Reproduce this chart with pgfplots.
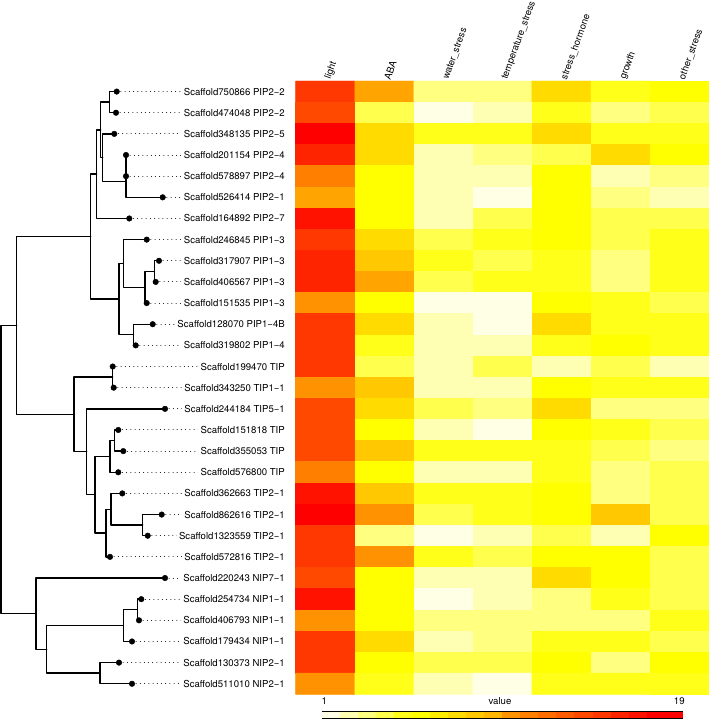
\documentclass[border=0pt]{standalone}
\usepackage{fontspec}
\setmainfont{TeX Gyre Heros}
\usepackage{pgfplots}
\pgfplotsset{compat=1.18}
\tikzset{tree/.style={black, line width=1.4pt, line cap=round, line join=round},
  tip/.style={anchor=east, fill=white, inner xsep=2.5pt, inner ysep=1pt, font=\fontsize{9.6}{11}\selectfont},
  col/.style={anchor=west, rotate=70, inner sep=0pt, font=\fontsize{9.6}{11}\selectfont}}
\begin{document}
\begin{tikzpicture}
\begin{axis}[name=ax, width=709pt, height=719pt, scale only axis,
  xmin=0, xmax=709, ymin=-3.3296, ymax=30.666, y dir=reverse, hide axis, clip=true,
  colormap={heat}{rgb255=(255,255,230) rgb255=(255,255,179) rgb255=(255,255,128) rgb255=(255,255,77) rgb255=(255,255,26) rgb255=(255,255,0) rgb255=(255,237,0) rgb255=(255,219,0) rgb255=(255,200,0) rgb255=(255,182,0) rgb255=(255,164,0) rgb255=(255,146,0) rgb255=(255,128,0) rgb255=(255,109,0) rgb255=(255,91,0) rgb255=(255,73,0) rgb255=(255,55,0) rgb255=(255,36,0) rgb255=(255,18,0) rgb255=(255,0,0) rgb255=(255,0,0)},
  colormap access=piecewise constant, point meta min=1.001, point meta max=19]

% heatmap: columns light, ABA, water_stress, temperature_stress, stress_hormone, growth, other_stress
\addplot[matrix plot*, mesh/cols=7, point meta=explicit] coordinates {
(325.2,1)[15] (384.3,1)[10] (443.3,1)[3] (502.4,1)[3] (561.4,1)[7] (620.5,1)[5] (679.5,1)[6]
(325.2,2)[14] (384.3,2)[4] (443.3,2)[1] (502.4,2)[2] (561.4,2)[5] (620.5,2)[3] (679.5,2)[4]
(325.2,3)[19] (384.3,3)[7] (443.3,3)[5] (502.4,3)[5] (561.4,3)[7] (620.5,3)[5] (679.5,3)[5]
(325.2,4)[16] (384.3,4)[7] (443.3,4)[2] (502.4,4)[3] (561.4,4)[4] (620.5,4)[7] (679.5,4)[6]
(325.2,5)[12] (384.3,5)[6] (443.3,5)[2] (502.4,5)[2] (561.4,5)[6] (620.5,5)[2] (679.5,5)[3]
(325.2,6)[10] (384.3,6)[6] (443.3,6)[2] (502.4,6)[1] (561.4,6)[6] (620.5,6)[3] (679.5,6)[2]
(325.2,7)[17] (384.3,7)[6] (443.3,7)[2] (502.4,7)[4] (561.4,7)[6] (620.5,7)[4] (679.5,7)[4]
(325.2,8)[15] (384.3,8)[7] (443.3,8)[4] (502.4,8)[5] (561.4,8)[6] (620.5,8)[4] (679.5,8)[5]
(325.2,9)[16] (384.3,9)[8] (443.3,9)[5] (502.4,9)[4] (561.4,9)[5] (620.5,9)[3] (679.5,9)[5]
(325.2,10)[16] (384.3,10)[10] (443.3,10)[4] (502.4,10)[5] (561.4,10)[5] (620.5,10)[3] (679.5,10)[5]
(325.2,11)[11] (384.3,11)[6] (443.3,11)[1] (502.4,11)[1] (561.4,11)[6] (620.5,11)[5] (679.5,11)[4]
(325.2,12)[15] (384.3,12)[7] (443.3,12)[2] (502.4,12)[1] (561.4,12)[7] (620.5,12)[5] (679.5,12)[5]
(325.2,13)[15] (384.3,13)[5] (443.3,13)[2] (502.4,13)[2] (561.4,13)[5] (620.5,13)[6] (679.5,13)[5]
(325.2,14)[15] (384.3,14)[4] (443.3,14)[2] (502.4,14)[4] (561.4,14)[2] (620.5,14)[4] (679.5,14)[2]
(325.2,15)[11] (384.3,15)[8] (443.3,15)[2] (502.4,15)[2] (561.4,15)[6] (620.5,15)[5] (679.5,15)[5]
(325.2,16)[14] (384.3,16)[7] (443.3,16)[4] (502.4,16)[3] (561.4,16)[7] (620.5,16)[3] (679.5,16)[3]
(325.2,17)[14] (384.3,17)[6] (443.3,17)[2] (502.4,17)[1] (561.4,17)[6] (620.5,17)[5] (679.5,17)[4]
(325.2,18)[14] (384.3,18)[8] (443.3,18)[5] (502.4,18)[5] (561.4,18)[5] (620.5,18)[4] (679.5,18)[3]
(325.2,19)[12] (384.3,19)[6] (443.3,19)[2] (502.4,19)[2] (561.4,19)[5] (620.5,19)[3] (679.5,19)[4]
(325.2,20)[17] (384.3,20)[8] (443.3,20)[5] (502.4,20)[5] (561.4,20)[6] (620.5,20)[3] (679.5,20)[4]
(325.2,21)[19] (384.3,21)[11] (443.3,21)[4] (502.4,21)[5] (561.4,21)[6] (620.5,21)[8] (679.5,21)[4]
(325.2,22)[15] (384.3,22)[3] (443.3,22)[1] (502.4,22)[2] (561.4,22)[4] (620.5,22)[2] (679.5,22)[6]
(325.2,23)[15] (384.3,23)[11] (443.3,23)[5] (502.4,23)[4] (561.4,23)[6] (620.5,23)[6] (679.5,23)[4]
(325.2,24)[14] (384.3,24)[6] (443.3,24)[2] (502.4,24)[2] (561.4,24)[7] (620.5,24)[6] (679.5,24)[4]
(325.2,25)[17] (384.3,25)[6] (443.3,25)[1] (502.4,25)[2] (561.4,25)[3] (620.5,25)[5] (679.5,25)[4]
(325.2,26)[11] (384.3,26)[6] (443.3,26)[3] (502.4,26)[3] (561.4,26)[3] (620.5,26)[3] (679.5,26)[5]
(325.2,27)[15] (384.3,27)[7] (443.3,27)[2] (502.4,27)[3] (561.4,27)[5] (620.5,27)[5] (679.5,27)[4]
(325.2,28)[15] (384.3,28)[6] (443.3,28)[4] (502.4,28)[4] (561.4,28)[6] (620.5,28)[3] (679.5,28)[6]
(325.2,29)[11] (384.3,29)[5] (443.3,29)[2] (502.4,29)[1] (561.4,29)[5] (620.5,29)[5] (679.5,29)[5]
};

% colour key
\addplot[scatter, only marks, mark=-, mark size=9.02pt, mark options={line width=6.6pt},
  scatter/use mapped color={draw=mapped color}, point meta=explicit] coordinates {
(331.0,30.476)[1.45] (349.1,30.476)[2.35] (367.1,30.476)[3.25] (385.1,30.476)[4.15] (403.2,30.476)[5.05]
(421.2,30.476)[5.95] (439.2,30.476)[6.85] (457.3,30.476)[7.75] (475.3,30.476)[8.65] (493.4,30.476)[9.55]
(511.4,30.476)[10.45] (529.4,30.476)[11.35] (547.5,30.476)[12.25] (565.5,30.476)[13.15] (583.5,30.476)[14.05]
(601.6,30.476)[14.95] (619.6,30.476)[15.85] (637.6,30.476)[16.75] (655.7,30.476)[17.65] (673.7,30.476)[18.55]
};
\addplot[black, line width=0.8pt] coordinates {(322,30.32) (682.7,30.32) (682.7,30.632) (322,30.632) (322,30.32)};

% tree
\addplot[tree] coordinates {(116.7,1) (109.3,1) (109.3,2) (116.0,2)};
\addplot[tree] coordinates {(126,4) (126,5)};
\addplot[tree] coordinates {(126,4.5) (126,6) (162.7,6)};
\addplot[tree] coordinates {(114.3,3) (102.7,3) (102.7,5.25) (126,5.25)};
\addplot[tree] coordinates {(109.3,1.5) (100.7,1.5) (100.7,4.125) (102.7,4.125)};
\addplot[tree] coordinates {(100.7,2.8125) (96.7,2.8125) (96.7,7) (129.3,7)};
\addplot[tree] coordinates {(159,9) (154.3,9) (154.3,10) (155.7,10)};
\addplot[tree] coordinates {(154.3,9.5) (145,9.5) (145,11) (146.7,11)};
\addplot[tree] coordinates {(146.7,8) (123.3,8) (123.3,10.25) (145,10.25)};
\addplot[tree] coordinates {(152.7,12) (133.3,12) (133.3,13) (135.7,13)};
\addplot[tree] coordinates {(123.3,9.125) (119,9.125) (119,12.5) (133.3,12.5)};
\addplot[tree] coordinates {(96.7,4.90625) (90.7,4.90625) (90.7,10.8125) (119,10.8125)};
\addplot[tree] coordinates {(112.7,14) (112.7,15) (113.7,15)};
\addplot[tree] coordinates {(118.3,17) (114.3,17) (114.3,18) (123.3,18)};
\addplot[tree] coordinates {(114.3,17.5) (110,17.5) (110,19) (118.3,19)};
\addplot[tree] coordinates {(161.7,21) (142.7,21) (142.7,22) (147.7,22)};
\addplot[tree] coordinates {(122.3,20) (111,20) (111,21.5) (142.7,21.5)};
\addplot[tree] coordinates {(111,20.75) (106,20.75) (106,23) (110,23)};
\addplot[tree] coordinates {(110,18.25) (95,18.25) (95,21.875) (106,21.875)};
\addplot[tree] coordinates {(165,16) (86.7,16) (86.7,20.0625) (95,20.0625)};
\addplot[tree] coordinates {(112.7,14.5) (74,14.5) (74,18.03125) (86.7,18.03125)};
\addplot[tree] coordinates {(90.7,7.859375) (16.7,7.859375) (16.7,16.265625) (74,16.265625)};
\addplot[tree] coordinates {(141.3,25) (137.3,25) (137.3,26) (139,26)};
\addplot[tree] coordinates {(137.3,25.5) (123.3,25.5) (123.3,27) (132,27)};
\addplot[tree] coordinates {(119,28) (100,28) (100,29) (132,29)};
\addplot[tree] coordinates {(123.3,26.25) (46.7,26.25) (46.7,28.5) (100,28.5)};
\addplot[tree] coordinates {(165,24) (36,24) (36,27.375) (46.7,27.375)};
\addplot[tree] coordinates {(16.7,12.0625) (1,12.0625) (1,25.6875) (36,25.6875)};

% leaders
\addplot[black, line width=1pt, line cap=round, dash pattern=on 0.01pt off 4.2pt, unbounded coords=jump] coordinates {
(116.7,1) (286,1) (nan,nan) (116.0,2) (286,2) (nan,nan) (114.3,3) (286,3) (nan,nan)
(126,4) (286,4) (nan,nan) (126,5) (286,5) (nan,nan) (162.7,6) (286,6) (nan,nan)
(129.3,7) (286,7) (nan,nan) (146.7,8) (286,8) (nan,nan) (159,9) (286,9) (nan,nan)
(155.7,10) (286,10) (nan,nan) (146.7,11) (286,11) (nan,nan) (152.7,12) (286,12) (nan,nan)
(135.7,13) (286,13) (nan,nan) (112.7,14) (286,14) (nan,nan) (113.7,15) (286,15) (nan,nan)
(165,16) (286,16) (nan,nan) (118.3,17) (286,17) (nan,nan) (123.3,18) (286,18) (nan,nan)
(118.3,19) (286,19) (nan,nan) (122.3,20) (286,20) (nan,nan) (161.7,21) (286,21) (nan,nan)
(147.7,22) (286,22) (nan,nan) (110,23) (286,23) (nan,nan) (165,24) (286,24) (nan,nan)
(141.3,25) (286,25) (nan,nan) (139,26) (286,26) (nan,nan) (132,27) (286,27) (nan,nan)
(119,28) (286,28) (nan,nan) (132,29) (286,29)
};

% tips
\addplot[only marks, mark=*, mark size=2.8pt, black] coordinates {
(116.7,1) (116.0,2) (114.3,3) (126,4) (126,5) (162.7,6) (129.3,7) (146.7,8) (159,9) (155.7,10)
(146.7,11) (152.7,12) (135.7,13) (112.7,14) (113.7,15) (165,16) (118.3,17) (123.3,18) (118.3,19)
(122.3,20) (161.7,21) (147.7,22) (110,23) (165,24) (141.3,25) (139,26) (132,27) (119,28) (132,29)
};

% tip labels
\node[tip] at (axis cs:287.5,1) {Scaffold750866 PIP2−2};
\node[tip] at (axis cs:287.5,2) {Scaffold474048 PIP2−2};
\node[tip] at (axis cs:287.5,3) {Scaffold348135 PIP2−5};
\node[tip] at (axis cs:287.5,4) {Scaffold201154 PIP2−4};
\node[tip] at (axis cs:287.5,5) {Scaffold578897 PIP2−4};
\node[tip] at (axis cs:287.5,6) {Scaffold526414 PIP2−1};
\node[tip] at (axis cs:287.5,7) {Scaffold164892 PIP2−7};
\node[tip] at (axis cs:287.5,8) {Scaffold246845 PIP1−3};
\node[tip] at (axis cs:287.5,9) {Scaffold317907 PIP1−3};
\node[tip] at (axis cs:287.5,10) {Scaffold406567 PIP1−3};
\node[tip] at (axis cs:287.5,11) {Scaffold151535 PIP1−3};
\node[tip] at (axis cs:287.5,12) {Scaffold128070 PIP1−4B};
\node[tip] at (axis cs:287.5,13) {Scaffold319802 PIP1−4};
\node[tip] at (axis cs:287.5,14) {Scaffold199470 TIP};
\node[tip] at (axis cs:287.5,15) {Scaffold343250 TIP1−1};
\node[tip] at (axis cs:287.5,16) {Scaffold244184 TIP5−1};
\node[tip] at (axis cs:287.5,17) {Scaffold151818 TIP};
\node[tip] at (axis cs:287.5,18) {Scaffold355053 TIP};
\node[tip] at (axis cs:287.5,19) {Scaffold576800 TIP};
\node[tip] at (axis cs:287.5,20) {Scaffold362663 TIP2−1};
\node[tip] at (axis cs:287.5,21) {Scaffold862616 TIP2−1};
\node[tip] at (axis cs:287.5,22) {Scaffold1323559 TIP2−1};
\node[tip] at (axis cs:287.5,23) {Scaffold572816 TIP2−1};
\node[tip] at (axis cs:287.5,24) {Scaffold220243 NIP7−1};
\node[tip] at (axis cs:287.5,25) {Scaffold254734 NIP1−1};
\node[tip] at (axis cs:287.5,26) {Scaffold406793 NIP1−1};
\node[tip] at (axis cs:287.5,27) {Scaffold179434 NIP1−1};
\node[tip] at (axis cs:287.5,28) {Scaffold130373 NIP2−1};
\node[tip] at (axis cs:287.5,29) {Scaffold511010 NIP2−1};

% column labels
\node[col] at (axis cs:328,0.42) {light};
\node[col] at (axis cs:387,0.42) {ABA};
\node[col] at (axis cs:446,0.42) {water\_stress};
\node[col] at (axis cs:505,0.42) {temperature\_stress};
\node[col] at (axis cs:564,0.42) {stress\_hormone};
\node[col] at (axis cs:623,0.42) {growth};
\node[col] at (axis cs:682,0.42) {other\_stress};

% key labels
\node[font=\fontsize{9.6}{11}\selectfont] at (axis cs:324.3,29.8) {1};
\node[font=\fontsize{9.6}{11}\selectfont] at (axis cs:500,29.8) {value};
\node[font=\fontsize{9.6}{11}\selectfont] at (axis cs:679.3,29.8) {19};
\end{axis}
\pgfresetboundingbox
\useasboundingbox (ax.south west) rectangle (ax.north east);
\end{tikzpicture}
\end{document}
